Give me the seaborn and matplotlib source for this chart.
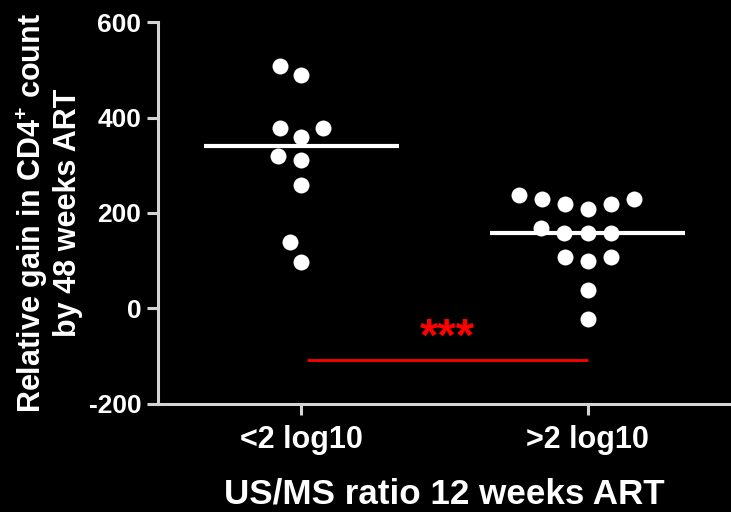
import numpy as np
import pandas as pd
import matplotlib
matplotlib.use("Agg")
import matplotlib.pyplot as plt
import seaborn as sns

# ==========================================
# DATA
# ==========================================

groups = ["<2 log10", ">2 log10"]

low_ratio = [508, 489, 379, 379, 360, 319, 310, 259, 139, 98]
high_ratio = [238, 229, 229, 219, 219, 209, 169, 159, 159, 159,
              108, 108, 99, 39, -21]

sig_y = -108
sig_label = "***"

df = pd.DataFrame({
    "group": [groups[0]] * len(low_ratio) + [groups[1]] * len(high_ratio),
    "gain": low_ratio + high_ratio,
})

# ==========================================
# STYLE
# ==========================================

sns.set_style("dark")
plt.rcParams["font.family"] = ["Liberation Sans", "DejaVu Sans"]
plt.rcParams["font.weight"] = "bold"
plt.rcParams["axes.unicode_minus"] = False
plt.rcParams["mathtext.fontset"] = "custom"
plt.rcParams["mathtext.rm"] = "Liberation Sans:bold"
plt.rcParams["mathtext.bf"] = "Liberation Sans:bold"

axis_col = "#d4d4d4"

fig = plt.figure(figsize=(7.31, 5.12), dpi=100, facecolor="black")
ax = fig.add_axes([0.216, 0.211, 0.784, 0.746])
ax.set_facecolor("black")

# ==========================================
# PLOT
# ==========================================

# black edge keeps the dots apart like the original layout
sns.swarmplot(
    data=df,
    x="group",
    y="gain",
    order=groups,
    color="white",
    size=13.8,
    edgecolor="black",
    linewidth=2.3,
    ax=ax,
    zorder=2
)

medians = df.groupby("group")["gain"].median().reindex(groups)
for i, m in enumerate(medians):
    ax.hlines(m, i - 0.34, i + 0.34, color="white", lw=3, zorder=3)

# significance bar
ax.hlines(sig_y, 0.02, 1.0, color="red", lw=2)
ax.text(0.51, -89, sig_label, color="red", fontsize=34,
        fontweight="bold", ha="center", va="baseline")

# ==========================================
# AXES
# ==========================================

ax.set_xlim(-0.5, 1.5)
ax.set_ylim(-200, 600)
ax.set_yticks([-200, 0, 200, 400, 600])
ax.grid(False)

for side in ["top", "right"]:
    ax.spines[side].set_visible(False)
for side in ["left", "bottom"]:
    ax.spines[side].set_visible(True)
    ax.spines[side].set_color(axis_col)
    ax.spines[side].set_linewidth(2.2)

ax.tick_params(axis="both", colors=axis_col, length=8, width=2.2,
               direction="out", left=True, bottom=True)
ax.tick_params(axis="y", labelsize=19, labelcolor="white", pad=4)
ax.tick_params(axis="x", labelsize=22, labelcolor="white", pad=7)
for lbl in ax.get_xticklabels() + ax.get_yticklabels():
    lbl.set_fontweight("bold")

ax.set_xlabel("US/MS ratio 12 weeks ART", color="white", fontsize=25.2,
              fontweight="bold", labelpad=16)
ax.set_ylabel("Relative gain in CD4$^{+}$ count\nby 48 weeks ART",
              color="white", fontsize=22, fontweight="bold",
              linespacing=1.15, labelpad=4)

fig.savefig("out.png", dpi=100, facecolor="black")
